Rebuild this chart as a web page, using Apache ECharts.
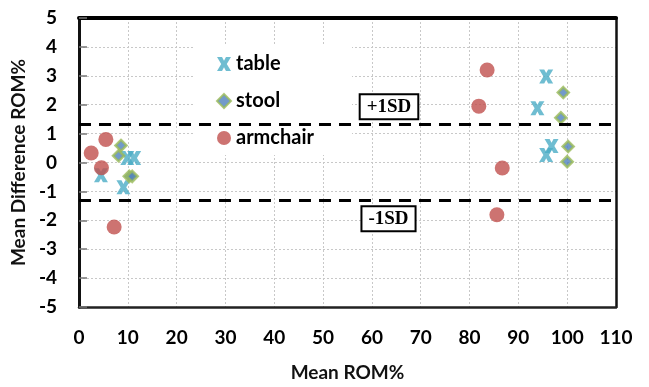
<!DOCTYPE html>
<html>
<head>
<meta charset="utf-8">
<script src="https://cdn.jsdelivr.net/npm/echarts@6/dist/echarts.min.js"></script>
<style>html,body{margin:0;padding:0;background:#fff}#c{width:649px;height:387px}</style>
</head>
<body>
<div id="c"></div>
<script>
// ---- data ----
var xTicks = [0, 10, 20, 30, 40, 50, 60, 70, 80, 90, 100, 110];
var yTicks = [-5, -4, -3, -2, -1, 0, 1, 2, 3, 4, 5];
var seriesNames = ['table', 'stool', 'armchair'];
var tableX = [4.5, 9.1, 9.9, 11.3, 95.7, 93.9, 96.8, 95.7];
var tableY = [-0.44, -0.86, 0.16, 0.16, 2.98, 1.88, 0.57, 0.26];
var stoolX = [8.6, 8.1, 10.3, 10.9, 99.2, 98.7, 100.2, 100.0];
var stoolY = [0.59, 0.23, -0.48, -0.48, 2.42, 1.55, 0.55, 0.03];
var armchairX = [5.5, 2.5, 4.6, 7.2, 83.6, 81.9, 86.7, 85.6];
var armchairY = [0.80, 0.33, -0.18, -2.23, 3.20, 1.95, -0.19, -1.81];
var upperSD = 1.33;
var lowerSD = -1.30;
var sdLabels = ['+1SD', '-1SD'];

function pairs(xs, ys) { return xs.map(function (x, i) { return [x, ys[i]]; }); }

var chart = echarts.init(document.getElementById('c'));
var sans = 'Lato';
var labelBox = {
  show: true, position: 'inside', color: '#000', fontFamily: 'Liberation Serif',
  fontWeight: 'bold', fontSize: 19, backgroundColor: '#fff', borderColor: '#000',
  borderWidth: 2, padding: [3, 6, 1, 6]
};
chart.setOption({
  animation: false,
  backgroundColor: '#fff',
  grid: { left: 79, right: 33, top: 18, bottom: 71, containLabel: false },
  legend: {
    orient: 'vertical', left: 195, top: 44,
    padding: [10, 38, 7, 21],
    backgroundColor: '#fff',
    itemWidth: 14, itemHeight: 14, itemGap: 17,
    textStyle: { fontFamily: sans, fontWeight: 'bold', fontSize: 20, color: '#000' },
    data: seriesNames
  },
  xAxis: [{
    type: 'value', min: xTicks[0], max: xTicks[xTicks.length - 1], interval: 10,
    name: 'Mean ROM%', nameLocation: 'middle', nameGap: 56,
    nameTextStyle: { fontFamily: sans, fontWeight: 'bold', fontSize: 19, color: '#111' },
    axisLine: { show: true, onZero: false, lineStyle: { color: '#222', width: 2.5 } },
    axisTick: { show: false },
    axisLabel: { margin: 21, fontFamily: sans, fontWeight: 'bold', fontSize: 19, color: '#000' },
    splitLine: { show: true, lineStyle: { color: '#c8c8c8', width: 1, type: [2, 2] } }
  }, {
    type: 'value', position: 'top', min: 0, max: 110,
    axisLine: { show: true, onZero: false, lineStyle: { color: '#000', width: 4 } },
    axisTick: { show: false }, axisLabel: { show: false }, splitLine: { show: false }
  }],
  yAxis: [{
    type: 'value', min: yTicks[0], max: yTicks[yTicks.length - 1], interval: 1,
    name: 'Mean Difference ROM%', nameLocation: 'middle', nameGap: 50, nameRotate: 90,
    nameTextStyle: { fontFamily: sans, fontWeight: 'bold', fontSize: 19, color: '#111' },
    axisLine: { show: true, onZero: false, lineStyle: { color: '#111', width: 3 } },
    axisTick: { show: true, inside: true, length: 8, lineStyle: { color: '#777', width: 1.5 } },
    axisLabel: { margin: 22, fontFamily: sans, fontWeight: 'bold', fontSize: 19, color: '#000' },
    splitLine: { show: true, lineStyle: { color: '#c8c8c8', width: 1, type: [2, 2] } }
  }, {
    type: 'value', position: 'right', min: -5, max: 5,
    axisLine: { show: true, onZero: false, lineStyle: { color: '#111', width: 2.5 } },
    axisTick: { show: false }, axisLabel: { show: false }, splitLine: { show: false }
  }],
  series: [{
    name: seriesNames[0], type: 'scatter',
    symbol: 'path://M0,0H3.6L5,2.6L6.4,0H10L7,5L10,10H6.4L5,7.4L3.6,10H0L3,5Z',
    symbolSize: 14,
    itemStyle: { color: '#4bacc6' },
    data: pairs(tableX, tableY),
    markLine: {
      silent: true, symbol: 'none', label: { show: false },
      lineStyle: { color: '#000', width: 3, type: [12, 8] },
      data: [{ yAxis: upperSD }, { yAxis: lowerSD }]
    }
  }, {
    name: seriesNames[1], type: 'scatter', symbol: 'diamond', symbolSize: 11,
    itemStyle: { color: '#4f81bd', borderColor: '#9bbb59', borderWidth: 2.5 },
    data: pairs(stoolX, stoolY)
  }, {
    name: seriesNames[2], type: 'scatter', symbol: 'circle', symbolSize: 15,
    itemStyle: { color: '#c0504d' },
    data: pairs(armchairX, armchairY),
    markPoint: {
      silent: true, symbol: 'circle', symbolSize: 1,
      itemStyle: { color: 'rgba(0,0,0,0)' },
      label: labelBox,
      data: [
        { coord: [63.5, 1.93], value: sdLabels[0], label: { formatter: sdLabels[0] } },
        { coord: [63.4, -1.95], value: sdLabels[1], label: { formatter: sdLabels[1] } }
      ]
    }
  }]
});
</script>
</body>
</html>
